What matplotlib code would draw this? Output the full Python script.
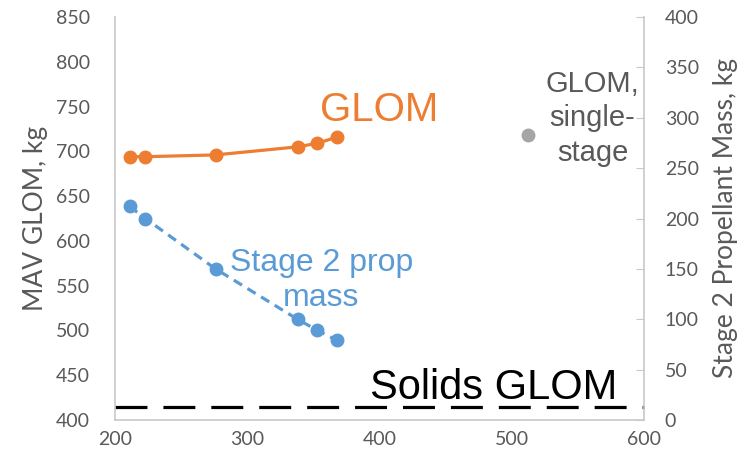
import matplotlib.pyplot as plt

# data
glom_x = [211, 223, 276, 338, 353, 368]
glom_kg = [694, 694, 696, 705, 709, 716]
prop_x = [211, 223, 276, 338, 353, 368]
prop_kg = [212, 200, 150, 100, 89, 79]
single_x = [512]
single_kg = [718]
solids_glom = 415

x_ticks = [200, 300, 400, 500, 600]
left_ticks = [400, 450, 500, 550, 600, 650, 700, 750, 800, 850]
right_ticks = [0, 50, 100, 150, 200, 250, 300, 350, 400]

orange = '#ED7D31'
blue = '#5B9BD5'
grey_pt = '#A5A5A5'
txt = '#595959'
spine = '#C8C8C8'
tick_font = 'Lato'
note_font = 'Liberation Sans'

fig = plt.figure(figsize=(7.52, 4.67), dpi=100)
ax = fig.add_axes([115 / 752, 47 / 467, 529 / 752, 403 / 467])
ax2 = ax.twinx()

ax.plot(glom_x, glom_kg, color=orange, lw=2.3, marker='o', ms=9, zorder=3)
ax.plot(single_x, single_kg, ls='none', marker='o', ms=9, color=grey_pt, zorder=3)
ax.plot(x_ticks[::len(x_ticks) - 1], [solids_glom, solids_glom], color='black',
        lw=2.3, dashes=(10, 5), zorder=2, clip_on=False)
ax2.plot(prop_x, prop_kg, color=blue, lw=2.3, ls=(0, (3, 2)), marker='o', ms=9, zorder=3)

ax.set_xlim(200, 600)
ax.set_ylim(400, 850)
ax2.set_ylim(0, 400)
ax.set_xticks(x_ticks)
ax.set_yticks(left_ticks)
ax2.set_yticks(right_ticks)

for a in (ax, ax2):
    for s in a.spines.values():
        s.set_visible(False)
ax.spines['left'].set_visible(True)
ax.spines['bottom'].set_visible(True)
ax2.spines['right'].set_visible(True)
for s in (ax.spines['left'], ax.spines['bottom'], ax2.spines['right']):
    s.set_color(spine)
    s.set_linewidth(1.2)

ax.tick_params(axis='y', length=0, pad=18, labelsize=14, labelcolor=txt)
ax.tick_params(axis='x', length=0, pad=8, labelsize=14, labelcolor=txt)
ax2.tick_params(axis='y', direction='in', length=6, color=spine, pad=15,
                labelsize=14, labelcolor=txt)
for lab in ax.get_xticklabels() + ax.get_yticklabels() + ax2.get_yticklabels():
    lab.set_family(tick_font)

ax.set_ylabel('MAV GLOM, kg', fontsize=19, color=txt, family=tick_font, labelpad=6)
ax2.set_ylabel('Stage 2 Propellant Mass, kg', fontsize=19, color=txt,
               family=tick_font, labelpad=10)

ax.text(400, 746, 'GLOM', color=orange, fontsize=29, family=note_font,
        ha='center', va='center')
ax.text(356, 556, 'Stage 2 prop\nmass', color=blue, fontsize=23, family=note_font,
        ha='center', va='center', linespacing=1.2)
ax.text(561, 737, 'GLOM,\nsingle-\nstage', color=txt, fontsize=21, family=note_font,
        ha='center', va='center', linespacing=1.3)
ax.text(486, 436, 'Solids GLOM', color='black', fontsize=30, family=note_font,
        ha='center', va='center')

fig.savefig('out.png', dpi=100)
